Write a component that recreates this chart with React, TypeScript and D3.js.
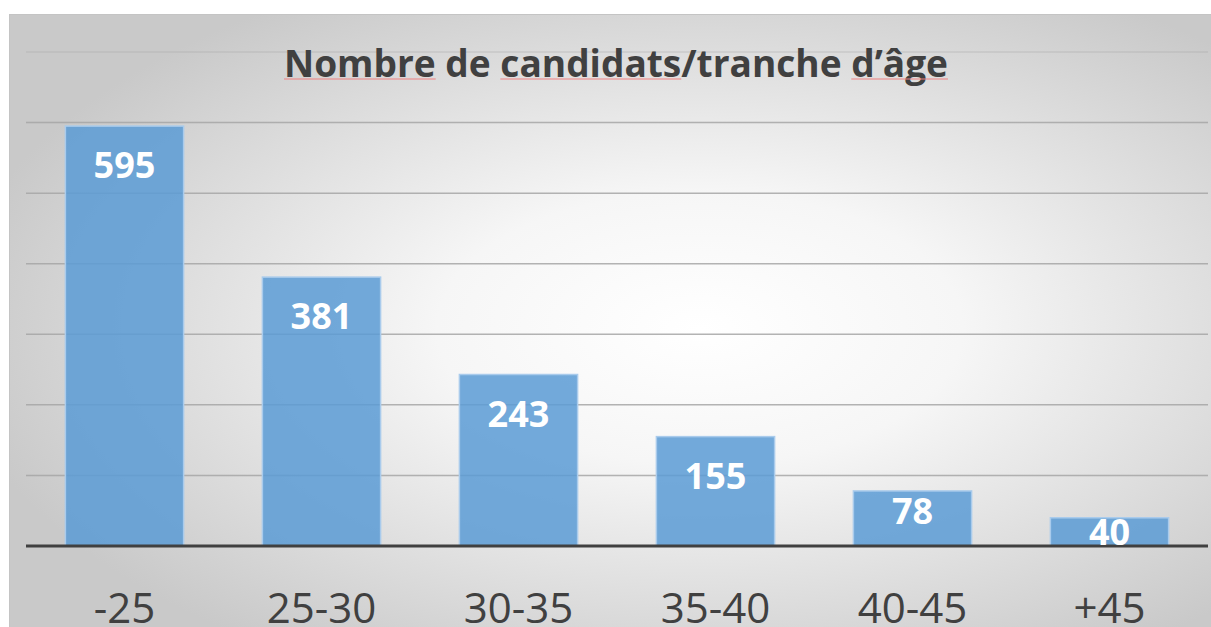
import React, { useEffect, useRef, useState } from "react";
import * as d3 from "d3";

const categories = ["-25", "25-30", "30-35", "35-40", "40-45", "+45"];
const candidates = [595, 381, 243, 155, 78, 40];
const yTicks = [0, 100, 200, 300, 400, 500, 600, 700];
const title = "Nombre de candidats/tranche d’âge";
const misspelled = ["Nombre", "candidats", "d’âge"];

const W = 1211;
const H = 627;

const App: React.FC = () => {
  const titleRef = useRef<SVGTextElement | null>(null);
  const [squiggles, setSquiggles] = useState<{ x1: number; x2: number }[]>([]);

  // chart area
  const left = 26;
  const right = 1208;
  const top = 52;
  const base = 546;

  const x = d3
    .scaleBand<string>()
    .domain(categories)
    .range([left, right])
    .paddingInner(0.4)
    .paddingOuter(0.2);

  const y = d3.scaleLinear().domain([0, 700]).range([base, top]);

  // red spell-check underlines under a few words of the title
  useEffect(() => {
    const el = titleRef.current;
    if (!el) return;
    const out: { x1: number; x2: number }[] = [];
    misspelled.forEach((w) => {
      const i = title.indexOf(w);
      if (i < 0) return;
      const a = el.getStartPositionOfChar(i).x;
      const b = el.getEndPositionOfChar(i + w.length - 1).x;
      out.push({ x1: a, x2: b });
    });
    setSquiggles(out);
  }, []);

  const labelBaseline = (v: number) => {
    const h = base - y(v);
    return y(v) + Math.min(52, Math.max(27, h * 0.6));
  };

  return (
    <svg
      width={W}
      height={H}
      viewBox={`0 0 ${W} ${H}`}
      style={{ position: "absolute", left: 0, top: 0, display: "block" }}
    >
      <defs>
        <radialGradient id="bg" cx="0.57" cy="0.5" r="0.62" fx="0.57" fy="0.5">
          <stop offset="0%" stopColor="#ffffff" />
          <stop offset="35%" stopColor="#f6f6f6" />
          <stop offset="100%" stopColor="#c9c9c9" />
        </radialGradient>
      </defs>

      <rect x={0} y={0} width={W} height={H} fill="#ffffff" />
      <rect
        x={9.5}
        y={14.5}
        width={W}
        height={H}
        fill="url(#bg)"
        stroke="#c4c4c4"
        strokeWidth={1}
      />

      {/* gridlines */}
      {yTicks
        .filter((t) => t > 0)
        .map((t) => (
          <line
            key={t}
            x1={left}
            x2={right}
            y1={y(t)}
            y2={y(t)}
            stroke="#a6a6a6"
            strokeOpacity={t === 700 ? 0.35 : 0.85}
            strokeWidth={1.5}
          />
        ))}

      {/* bars */}
      {categories.map((c, i) => (
        <rect
          key={c}
          x={x(c)!}
          y={y(candidates[i])}
          width={x.bandwidth()}
          height={base - y(candidates[i])}
          fill="#5b9bd5"
          fillOpacity={0.85}
          stroke="#a9cbec"
          strokeWidth={1.5}
        />
      ))}

      {/* baseline */}
      <line x1={left} x2={right} y1={base} y2={base} stroke="#404040" strokeWidth={3} />

      {/* value labels */}
      {categories.map((c, i) => (
        <text
          key={c}
          x={x(c)! + x.bandwidth() / 2}
          y={labelBaseline(candidates[i])}
          textAnchor="middle"
          fill="#ffffff"
          fontFamily="'Open Sans', sans-serif"
          fontWeight={700}
          fontSize={36}
        >
          {candidates[i]}
        </text>
      ))}

      {/* category labels */}
      {categories.map((c) => (
        <text
          key={c}
          x={x(c)! + x.bandwidth() / 2}
          y={623}
          textAnchor="middle"
          fill="#404040"
          fontFamily="'Open Sans', sans-serif"
          fontSize={42}
        >
          {c}
        </text>
      ))}

      {/* title */}
      <text
        ref={titleRef}
        x={616}
        y={77}
        textAnchor="middle"
        fill="#404040"
        fontFamily="'Open Sans', sans-serif"
        fontWeight={700}
        fontSize={38}
        textLength={664}
        lengthAdjust="spacingAndGlyphs"
      >
        {title}
      </text>
      {squiggles.map((s, i) => (
        <line
          key={i}
          x1={s.x1}
          x2={s.x2}
          y1={79}
          y2={79}
          stroke="#f08080"
          strokeWidth={1.2}
        />
      ))}
    </svg>
  );
};

export default App;
